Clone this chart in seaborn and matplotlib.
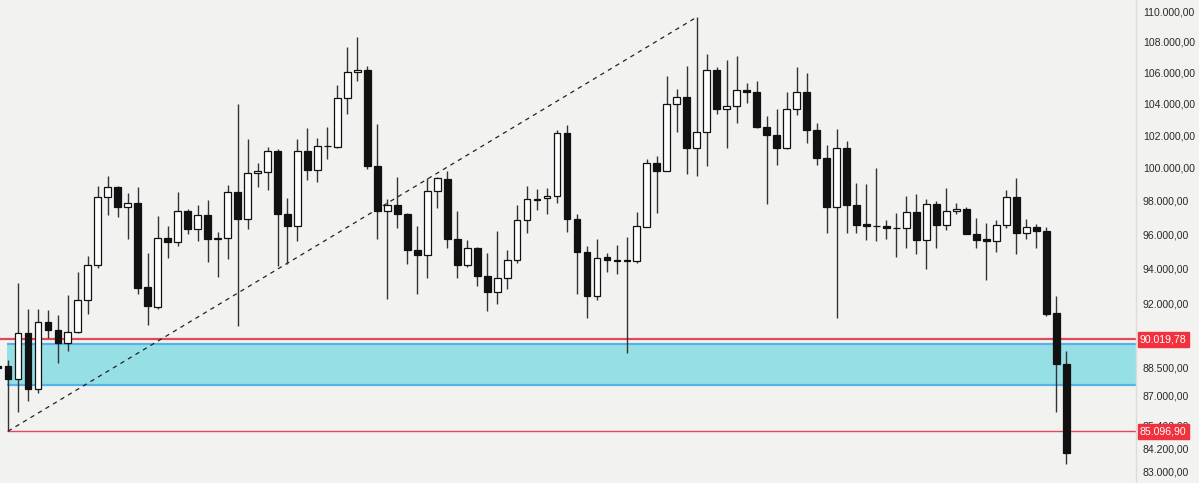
import numpy as np
import matplotlib
matplotlib.use("Agg")
import matplotlib.pyplot as plt
import matplotlib.ticker as mticker
import seaborn as sns

# candle data (first candle is the one cut off at the left edge)
opens = [88550, 88550, 87860, 90350, 87320, 90955, 90515, 89800, 90405, 92230,
         94230, 98236, 98824, 97636, 97880, 92970, 91835, 95772, 95543, 97394,
         96303, 97150, 95715, 95772, 98530, 96909, 99647, 99706, 101000, 97212,
         96485, 101000, 99882, 101312, 101250, 104387, 106000, 106129, 100125, 97394,
         97758, 97212, 95086, 94801, 98589, 99294, 95715, 94230, 95200, 93600,
         92685, 93486, 94515, 96848, 98118, 98177, 98295, 102129, 96909, 94972,
         92458, 94687, 94515, 94458, 94458, 96424, 100312, 99824, 104000, 104452,
         101187, 102194, 106193, 103677, 103871, 104839, 104710, 102516, 102000, 101187,
         103677, 104710, 102323, 100562, 97636, 101187, 97758, 96606, 96485, 96485,
         96364, 96364, 97333, 95657, 97818, 96545, 97394, 97515, 96000, 95715,
         95600, 96545, 98236, 96061, 96424, 96182, 91505, 88663]
highs = [88600, 88880, 93200, 91725, 91725, 91670, 91395, 92515, 93830, 94745,
         98880, 99470, 98880, 98470, 98824, 94915, 97090, 96485, 98530, 97515,
         97758, 98060, 96120, 98940, 104000, 101750, 100310, 101250, 101125, 98177,
         101750, 102450, 101812, 102516, 105160, 107677, 108344, 106451, 102710, 98118,
         99412, 97273, 96485, 99353, 99412, 99824, 97394, 95657, 95257, 94915,
         96182, 95086, 97758, 98883, 98706, 98765, 102323, 102645, 97212, 95315,
         95715, 94915, 95372, 95829, 97333, 100500, 100687, 105742, 104903, 106451,
         109655, 107226, 106387, 106838, 107097, 105290, 105419, 103226, 103677, 104710,
         106387, 105935, 102774, 101375, 102387, 101625, 99059, 99000, 100000, 96848,
         97273, 98295, 98412, 98118, 98000, 98765, 97879, 97636, 96970, 96667,
         96848, 98648, 99353, 96909, 96606, 96424, 92458, 89368]
lows = [82000, 85097, 86090, 86680, 87100, 90075, 88717, 89370, 90350, 91450,
        94060, 97150, 97030, 95715, 92573, 90790, 91725, 94630, 95315, 96000,
        95600, 94400, 93543, 94570, 90735, 96300, 98824, 98648, 94173, 94287,
        95600, 99236, 99118, 100500, 101187, 103355, 105419, 99941, 95715, 92287,
        96364, 94287, 92573, 93486, 97576, 95200, 93486, 94116, 93029, 91615,
        92000, 92858, 94344, 96061, 97455, 97212, 97879, 96121, 92573, 91230,
        92230, 93829, 93715, 89260, 94344, 96424, 97273, 99824, 102194, 99588,
        99470, 100125, 103355, 101187, 102774, 104065, 102452, 97818, 100187, 101150,
        103290, 101500, 100187, 96061, 91230, 96061, 96061, 95657, 95600, 95715,
        94687, 95200, 94858, 94000, 95200, 96242, 97212, 96000, 95200, 93372,
        94972, 96364, 94858, 95715, 95200, 91340, 86094, 83400]
closes = [88450, 87860, 90350, 87320, 90955, 90515, 89800, 90405, 92230, 94230,
          98236, 98824, 97636, 97880, 92915, 91890, 95772, 95543, 97394, 96303,
          97150, 95715, 95772, 98530, 96909, 99647, 99765, 101000, 97212, 96485,
          101000, 99882, 101312, 101330, 104387, 106000, 106129, 100125, 97394, 97758,
          97212, 95086, 94801, 98589, 99353, 95715, 94230, 95200, 93600, 92685,
          93486, 94515, 96848, 98118, 98059, 98295, 102129, 96909, 94972, 92458,
          94630, 94515, 94458, 94480, 96485, 100312, 99824, 104000, 104452, 101187,
          102194, 106193, 103677, 103871, 104839, 104710, 102516, 102000, 101187, 103677,
          104710, 102323, 100562, 97636, 101187, 97758, 96545, 96485, 96500, 96364,
          96380, 97333, 95657, 97818, 96545, 97394, 97515, 96000, 95657, 95600,
          96545, 98236, 96061, 96424, 96182, 91450, 88663, 83950]

# drawn levels
level_upper = 90019.78
level_lower = 85096.90
zone_top = 89750
zone_bottom = 87535
trend_x = [1, 70]
trend_y = [85097, 109655]

tick_values = [110000, 108000, 106000, 104000, 102000, 100000, 98000, 96000,
               94000, 92000, 88500, 87000, 85400, 84200, 83000]

BG = "#f2f2f0"
RED = "#f0323f"

sns.set_style("white", {"axes.facecolor": BG, "figure.facecolor": BG})
plt.rcParams["font.family"] = ["Liberation Sans", "DejaVu Sans"]

fig = plt.figure(figsize=(11.99, 4.83), dpi=100)
ax = fig.add_axes([0, 0, 1136 / 1199, 1])

x = np.arange(len(opens))
o = np.array(opens, dtype=float)
h = np.array(highs, dtype=float)
l = np.array(lows, dtype=float)
c = np.array(closes, dtype=float)
up = c >= o

# zone + levels
ax.fill_between([0.9, 115], zone_bottom, zone_top, color="#96dfe5", lw=0, zorder=0.5)
ax.hlines([zone_top, zone_bottom], 0.9, 115, color="#55b3e6", lw=1.6, zorder=0.6)
ax.hlines(level_upper, -1, 115, color="#e2485c", lw=1.6, zorder=0.7)
ax.hlines(level_lower, 0.9, 115, color="#e2485c", lw=1.0, zorder=0.7)

# trend line
sns.lineplot(x=trend_x, y=trend_y, ax=ax, color="#222222", lw=0.9,
             linestyle=(0, (3.5, 3.5)), zorder=1)

# candles
ax.vlines(x, l, h, color="#333333", lw=1.0, zorder=2)
body_low = np.minimum(o, c)
body_h = np.maximum(np.abs(c - o), 30)
ax.bar(x[up], body_h[up], bottom=body_low[up], width=0.68, color="white",
       edgecolor="#111111", linewidth=0.9, zorder=3)
ax.bar(x[~up], body_h[~up], bottom=body_low[~up], width=0.68, color="#111111",
       edgecolor="#111111", linewidth=0.9, zorder=3)

ax.set_yscale("log")
ax.set_ylim(82440, 110810)
ax.set_xlim(0.2, 114.0)


def fmt(v, pos=None):
    s = f"{v:,.2f}"
    return s.replace(",", "X").replace(".", ",").replace("X", ".")


ax.yaxis.set_major_locator(mticker.FixedLocator(tick_values))
ax.yaxis.set_major_formatter(mticker.FuncFormatter(fmt))
ax.yaxis.set_minor_locator(mticker.NullLocator())
ax.yaxis.tick_right()
ax.tick_params(axis="y", length=0, pad=5, labelsize=7.6, labelcolor="#2a2a2a")
ax.set_xticks([])
ax.set_xlabel("")
ax.set_ylabel("")

for side in ["top", "left", "bottom"]:
    ax.spines[side].set_visible(False)
ax.spines["right"].set_color("#dcdcda")
ax.spines["right"].set_linewidth(1.0)

# price labels on the axis
for lvl in [level_upper, level_lower]:
    ax.text(1.0035, lvl, fmt(lvl), transform=ax.get_yaxis_transform(),
            ha="left", va="center", fontsize=7.6, color="white", zorder=10,
            clip_on=False,
            bbox=dict(boxstyle="square,pad=0.22", fc=RED, ec=RED))

fig.savefig("out.png", dpi=100, facecolor=BG)
